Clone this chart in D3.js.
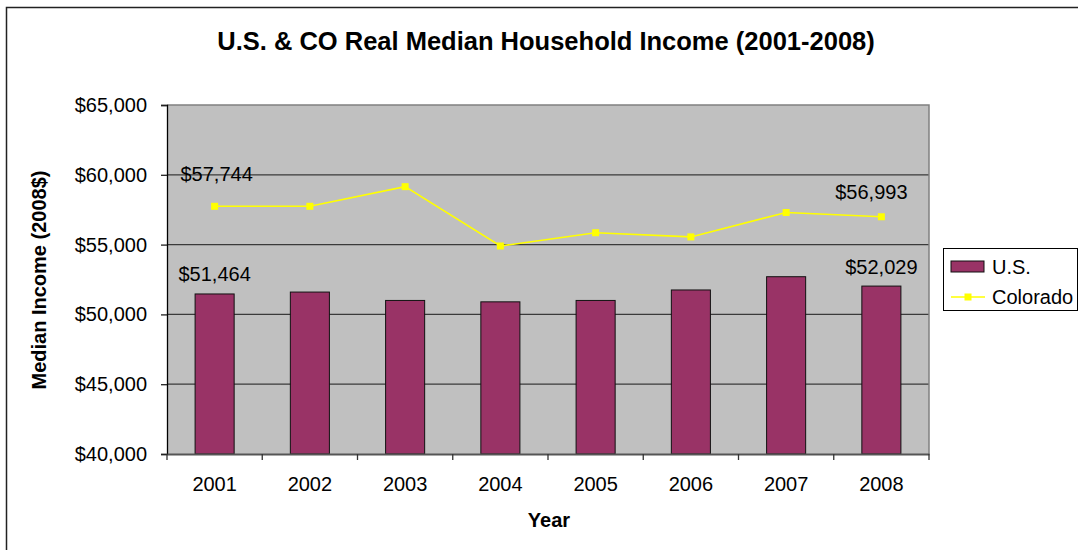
<!DOCTYPE html>
<html>
<head>
<meta charset="utf-8">
<script src="https://cdn.jsdelivr.net/npm/d3@7"></script>
<style>
  html, body { margin: 0; padding: 0; background: #fff; }
  svg { display: block; font-family: "Liberation Sans", Arial, sans-serif; }
</style>
</head>
<body>
<svg id="chart" width="1078" height="550"></svg>
<script>
// Real median household income, 2008 dollars
const years = ["2001", "2002", "2003", "2004", "2005", "2006", "2007", "2008"];
const usIncome = [51464, 51600, 51000, 50900, 51000, 51750, 52700, 52029];
const coIncome = [57744, 57744, 59150, 54900, 55850, 55550, 57300, 56993];
const yTicks = [40000, 45000, 50000, 55000, 60000, 65000];
const labeledYears = ["2001", "2008"];

const svg = d3.select("#chart");
const money = v => "$" + d3.format(",")(v);

// outer chart frame (runs off the right and bottom edges)
svg.append("rect")
  .attr("x", 6.5).attr("y", 7.5).attr("width", 1200).attr("height", 700)
  .attr("fill", "none").attr("stroke", "#222").attr("stroke-width", 1.5);

const plot = { left: 167, right: 929, top: 105, bottom: 454 };

const x = d3.scaleBand().domain(years).range([plot.left, plot.right]).padding(0);
const y = d3.scaleLinear().domain([40000, 65000]).range([plot.bottom, plot.top]);
const bw = x.bandwidth();
const barW = bw * 0.41;
const cx = d => x(d) + bw / 2;

// plot area
svg.append("rect")
  .attr("x", plot.left).attr("y", plot.top)
  .attr("width", plot.right - plot.left).attr("height", plot.bottom - plot.top)
  .attr("fill", "#c0c0c0");

// horizontal gridlines
svg.append("g").selectAll("line")
  .data(yTicks.filter(t => t > 40000 && t < 65000))
  .join("line")
  .attr("x1", plot.left).attr("x2", plot.right)
  .attr("y1", d => y(d)).attr("y2", d => y(d))
  .attr("stroke", "#3a3a3a").attr("stroke-width", 1.3);

// plot border (top and right)
svg.append("path")
  .attr("d", `M${plot.left},${plot.top}H${plot.right}V${plot.bottom}`)
  .attr("fill", "none").attr("stroke", "#808080").attr("stroke-width", 1.5);

// U.S. bars
svg.append("g").selectAll("rect")
  .data(years.map((yr, i) => ({ yr, v: usIncome[i] })))
  .join("rect")
  .attr("x", d => cx(d.yr) - barW / 2)
  .attr("y", d => y(d.v))
  .attr("width", barW)
  .attr("height", d => y(40000) - y(d.v))
  .attr("fill", "#993366").attr("stroke", "#111").attr("stroke-width", 1);

// Colorado line
const coData = years.map((yr, i) => ({ yr, v: coIncome[i] }));
svg.append("path")
  .datum(coData)
  .attr("d", d3.line().x(d => cx(d.yr)).y(d => y(d.v)))
  .attr("fill", "none").attr("stroke", "#ffff00").attr("stroke-width", 1.6);
svg.append("g").selectAll("rect")
  .data(coData)
  .join("rect")
  .attr("x", d => cx(d.yr) - 3.5).attr("y", d => y(d.v) - 3.5)
  .attr("width", 7).attr("height", 7)
  .attr("fill", "#ffff00");

// Y axis
const yAxis = svg.append("g")
  .attr("transform", `translate(${plot.left},0)`)
  .call(d3.axisLeft(y).tickValues(yTicks).tickSize(6).tickPadding(14).tickFormat(money));
yAxis.select(".domain").attr("stroke", "#000").attr("stroke-width", 1.3);
yAxis.selectAll(".tick line").attr("stroke", "#222").attr("stroke-width", 1.3);
yAxis.selectAll("text").attr("font-size", 20).attr("fill", "#000")
  .attr("font-family", "Liberation Sans, Arial, sans-serif");

// X axis: labels centred on categories, tick marks between categories
const xAxis = svg.append("g")
  .attr("transform", `translate(0,${plot.bottom})`)
  .call(d3.axisBottom(x).tickSize(0).tickPadding(23));
xAxis.select(".domain").attr("stroke", "#555").attr("stroke-width", 1.8);
xAxis.selectAll("text").attr("font-size", 20).attr("fill", "#000")
  .attr("font-family", "Liberation Sans, Arial, sans-serif");
svg.append("g").selectAll("line")
  .data(years.map(yr => x(yr)).concat([plot.right]))
  .join("line")
  .attr("x1", d => d).attr("x2", d => d)
  .attr("y1", plot.bottom).attr("y2", plot.bottom + 6)
  .attr("stroke", "#333").attr("stroke-width", 1.3);

// data labels
const usLabels = years.map((yr, i) => ({ yr, v: usIncome[i] })).filter(d => labeledYears.includes(d.yr));
svg.append("g").selectAll("text")
  .data(usLabels)
  .join("text")
  .attr("x", d => cx(d.yr))
  .attr("y", d => y(d.v) - 12.5)
  .attr("text-anchor", "middle").attr("font-size", 20).attr("fill", "#000")
  .text(d => money(d.v));

const coNudge = { "2001": [2, -25], "2008": [-10, -18] };
svg.append("g").selectAll("text")
  .data(coData.filter(d => labeledYears.includes(d.yr)))
  .join("text")
  .attr("x", d => cx(d.yr) + coNudge[d.yr][0])
  .attr("y", d => y(d.v) + coNudge[d.yr][1])
  .attr("text-anchor", "middle").attr("font-size", 20).attr("fill", "#000")
  .text(d => money(d.v));

// titles
svg.append("text")
  .attr("x", 546).attr("y", 50)
  .attr("text-anchor", "middle").attr("font-size", 25.5).attr("font-weight", "bold")
  .text("U.S. & CO Real Median Household Income (2001-2008)");
svg.append("text")
  .attr("transform", "translate(39,280) rotate(-90)")
  .attr("dy", "0.35em")
  .attr("text-anchor", "middle").attr("font-size", 20).attr("font-weight", "bold")
  .text("Median Income (2008$)");
svg.append("text")
  .attr("x", 549).attr("y", 527)
  .attr("text-anchor", "middle").attr("font-size", 20).attr("font-weight", "bold")
  .text("Year");

// legend
const legend = svg.append("g");
legend.append("rect")
  .attr("x", 943.5).attr("y", 248.5).attr("width", 134).attr("height", 62)
  .attr("fill", "#fff").attr("stroke", "#000").attr("stroke-width", 1);
legend.append("rect")
  .attr("x", 951).attr("y", 261).attr("width", 33).attr("height", 11)
  .attr("fill", "#993366").attr("stroke", "#111").attr("stroke-width", 1);
legend.append("text")
  .attr("x", 992).attr("y", 273.5).attr("font-size", 20).text("U.S.");
legend.append("line")
  .attr("x1", 951).attr("x2", 985).attr("y1", 297).attr("y2", 297)
  .attr("stroke", "#ffff00").attr("stroke-width", 1.6);
legend.append("rect")
  .attr("x", 964.5).attr("y", 293.5).attr("width", 7).attr("height", 7)
  .attr("fill", "#ffff00");
legend.append("text")
  .attr("x", 992).attr("y", 304).attr("font-size", 20).text("Colorado");
</script>
</body>
</html>
